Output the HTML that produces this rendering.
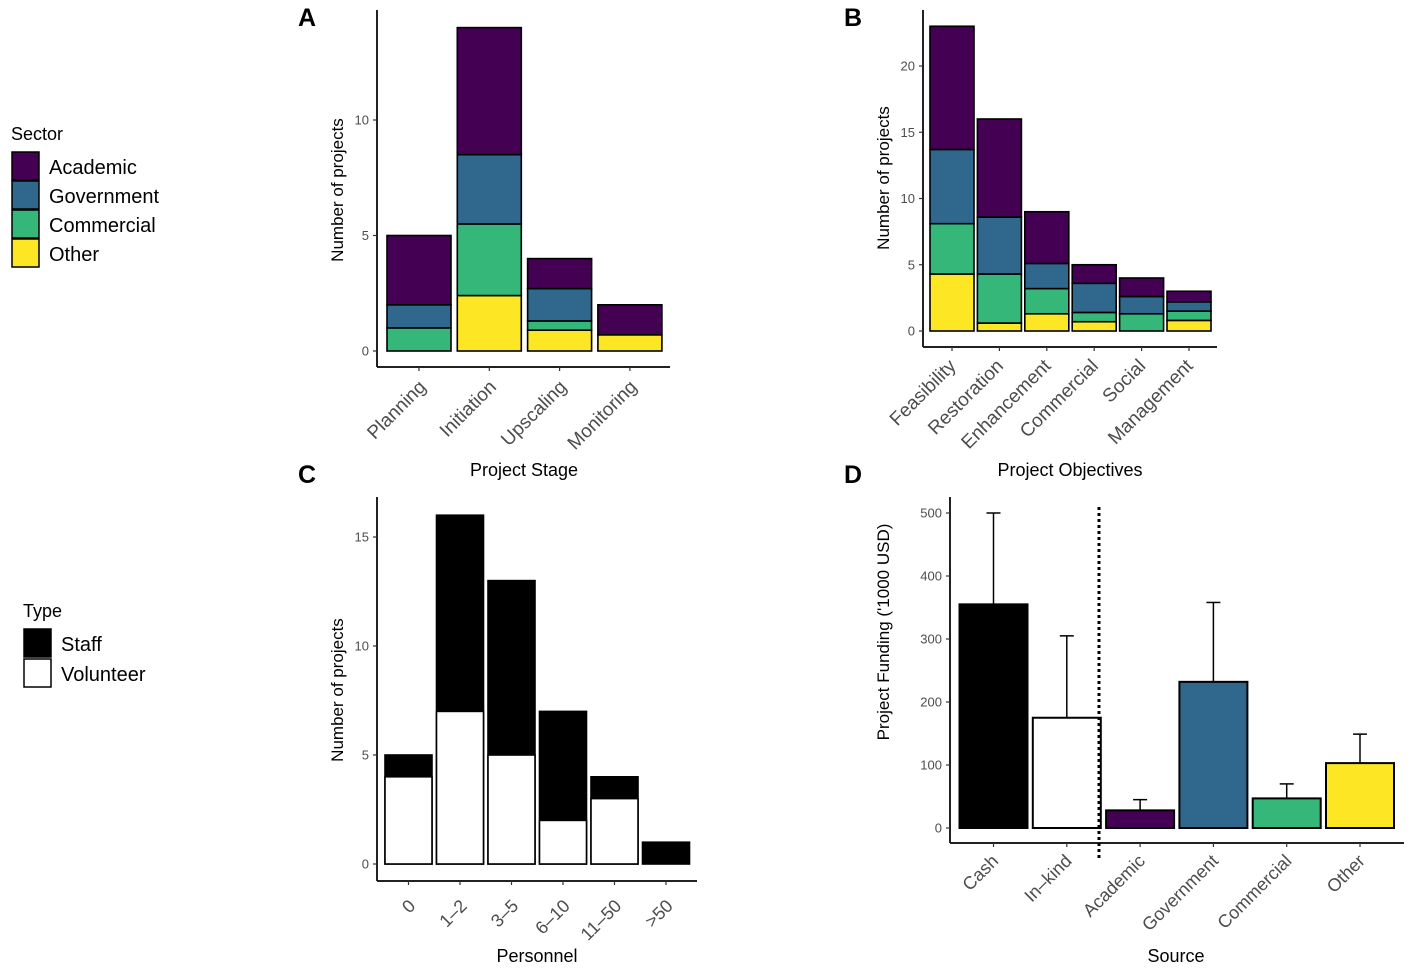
<!DOCTYPE html>
<html><head><meta charset="utf-8"><style>
html,body{margin:0;padding:0;background:#fff;}
svg{display:block;font-family:"Liberation Sans",sans-serif;}
</style></head><body>
<svg id="fig" width="1417" height="974" viewBox="0 0 1417 974">
<g id="root"></g>
</svg>
<script>
// Panel A data
const stagesA = ["Planning","Initiation","Upscaling","Monitoring"];
const otherA = [0, 2.4, 0.9, 0.7];
const commercialA = [1, 3.1, 0.4, 0];
const governmentA = [1, 3.0, 1.4, 0];
const academicA = [3, 5.5, 1.3, 1.3];
const ticksA = [0,5,10];
// Panel B data
const objectivesB = ["Feasibility","Restoration","Enhancement","Commercial","Social","Management"];
const otherB = [4.3, 0.6, 1.3, 0.7, 0, 0.8];
const commercialB = [3.8, 3.7, 1.9, 0.7, 1.3, 0.7];
const governmentB = [5.6, 4.3, 1.9, 2.2, 1.3, 0.7];
const academicB = [9.3, 7.4, 3.9, 1.4, 1.4, 0.8];
const ticksB = [0,5,10,15,20];
// Panel C data
const personnelC = ["0","1\u20132","3\u20135","6\u201310","11\u201350",">50"];
const volunteerC = [4, 7, 5, 2, 3, 0];
const totalC = [5, 16, 13, 7, 4, 1];
const ticksC = [0,5,10,15];
// Panel D data
const sourcesD = ["Cash","In\u2013kind","Academic","Government","Commercial","Other"];
const fundingD = [355, 175, 28, 232, 47, 103];
const errorD = [500, 305, 45, 358, 70, 149];
const ticksD = [0,100,200,300,400,500];

const NS="http://www.w3.org/2000/svg";
const root=document.getElementById('root');
function mk(tag,attrs,parent){const e=document.createElementNS(NS,tag);for(const k in attrs)e.setAttribute(k,attrs[k]);(parent||root).appendChild(e);return e;}
function txt(s,attrs,parent){const e=mk('text',attrs,parent);e.textContent=s;return e;}
const COL={Academic:"#440154",Government:"#30678d",Commercial:"#35b779",Other:"#fde725"};

function axes(p){
  const g=mk('g',{});
  
  
  mk('line',{x1:p.ax,y1:p.yTop,x2:p.ax,y2:p.ay,stroke:'#222','stroke-width':2},g);
  mk('line',{x1:p.ax,y1:p.ay,x2:p.xEnd,y2:p.ay,stroke:'#222','stroke-width':2},g);
  p.ticks.forEach(t=>{
    const y=p.y(t);
    mk('line',{x1:p.ax-4,y1:y,x2:p.ax,y2:y,stroke:'#333','stroke-width':1.2},g);
    const l=txt(String(t),{x:p.ax-8,y:y+4.5,'text-anchor':'end','font-size':13,fill:'#4d4d4d'},g);
    
    
  });
  p.cats.forEach((c,i)=>{
    const cx=p.cx(i);
    mk('line',{x1:cx,y1:p.ay,x2:cx,y2:p.ay+4,stroke:'#333','stroke-width':1.2},g);
    const lx=cx+p.lox, ly=p.ay+p.loy;
    const l=txt(c,{x:lx,y:ly,'text-anchor':'end','font-size':p.fs,fill:'#4d4d4d',transform:`rotate(-45 ${lx} ${ly})`},g);
    
    
  });
  const xt=txt(p.xTitle,{x:p.xtx,y:p.xty,'text-anchor':'middle','font-size':18,fill:'#000'},g);
  
  
  const yt=txt(p.yTitle,{x:0,y:0,'text-anchor':'middle','font-size':17,fill:'#000',transform:`translate(${p.ytx},${p.yty}) rotate(-90)`},g);
  
  
  const pl=txt(p.letter,{x:p.lx,y:p.ly,'font-size':25,'font-weight':'bold',fill:'#000'},g);
  
  
}

function stacked(p,series,names){
  const g=mk('g',{});
  
  
  p.cats.forEach((c,i)=>{
    let cum=0;
    series.forEach((s,k)=>{
      const v=s[i]; if(v<=0) return;
      const y0=p.y(cum), y1=p.y(cum+v); cum+=v;
      const r=mk('rect',{x:p.cx(i)-p.bw/2,y:y1,width:p.bw,height:y0-y1,fill:COL[names[k]],stroke:'#000','stroke-width':1.6},g);
      
      
    });
  });
}

// Panel A
const pA={name:'panel-a',cats:stagesA,ticks:ticksA,ax:377,ay:367,yTop:10,xEnd:670,
  y:v=>351-v*23.1,cx:i=>419+i*70.3,bw:64,lox:8,loy:21,fs:19,
  xTitle:'Project Stage',xtx:524,xty:476,yTitle:'Number of projects',ytx:343,yty:190,letter:'A',lx:298,ly:26};
axes(pA);
stacked(pA,[otherA,commercialA,governmentA,academicA],["Other","Commercial","Government","Academic"]);

// Panel B
const pB={name:'panel-b',cats:objectivesB,ticks:ticksB,ax:923,ay:347,yTop:10,xEnd:1217,
  y:v=>331-v*13.25,cx:i=>952+i*47.4,bw:44,lox:5,loy:20,fs:19,
  xTitle:'Project Objectives',xtx:1070,xty:476,yTitle:'Number of projects',ytx:889,yty:178,letter:'B',lx:844,ly:26};
axes(pB);
stacked(pB,[otherB,commercialB,governmentB,academicB],["Other","Commercial","Government","Academic"]);

// Panel C
const pC={name:'panel-c',cats:personnelC,ticks:ticksC,ax:377,ay:881,yTop:497,xEnd:697,
  y:v=>864-v*21.8,cx:i=>408.5+i*51.5,bw:47,lox:8,loy:26,fs:18,
  xTitle:'Personnel',xtx:537,xty:962,yTitle:'Number of projects',ytx:343,yty:690,letter:'C',lx:298,ly:483};
axes(pC);
(function(){
  const g=mk('g',{});
  
  
  personnelC.forEach((c,i)=>{
    const x=pC.cx(i)-pC.bw/2;
    const s=mk('rect',{x:x,y:pC.y(totalC[i]),width:pC.bw,height:pC.y(0)-pC.y(totalC[i]),fill:'#000',stroke:'#000','stroke-width':1.6},g);
    
    
    if(volunteerC[i]>0){
      const v=mk('rect',{x:x,y:pC.y(volunteerC[i]),width:pC.bw,height:pC.y(0)-pC.y(volunteerC[i]),fill:'#fff',stroke:'#000','stroke-width':1.6},g);
      
      
    }
  });
})();

// Panel D
const pD={name:'panel-d',cats:sourcesD,ticks:ticksD,ax:950,ay:843,yTop:497,xEnd:1404,
  y:v=>828-v*0.63,cx:i=>993.5+i*73.3,bw:68,lox:6,loy:19,fs:18,
  xTitle:'Source',xtx:1176,xty:962,yTitle:"Project Funding ('1000 USD)",ytx:889,yty:632,letter:'D',lx:844,ly:483};
axes(pD);
(function(){
  const fills=["#000","#fff",COL.Academic,COL.Government,COL.Commercial,COL.Other];
  const g=mk('g',{});
  
  
  sourcesD.forEach((c,i)=>{
    const cx=pD.cx(i);
    mk('line',{x1:cx,y1:pD.y(fundingD[i]),x2:cx,y2:pD.y(errorD[i]),stroke:'#000','stroke-width':1.5},g);
    mk('line',{x1:cx-7,y1:pD.y(errorD[i]),x2:cx+7,y2:pD.y(errorD[i]),stroke:'#000','stroke-width':1.5},g);
    const r=mk('rect',{x:cx-pD.bw/2,y:pD.y(fundingD[i]),width:pD.bw,height:pD.y(0)-pD.y(fundingD[i]),fill:fills[i],stroke:'#000','stroke-width':2},g);
    
    
  });
  const d=mk('line',{x1:1099,y1:507,x2:1099,y2:860,stroke:'#000','stroke-width':3,'stroke-dasharray':'3 3'},g);
  
  
})();

// Legends
(function(){
  const g=mk('g',{});
  
  
  txt('Sector',{x:11,y:140,'font-size':18,fill:'#000'},g);
  const names=["Academic","Government","Commercial","Other"];
  names.forEach((n,i)=>{
    const y=152+i*29;
    const e=mk('g',{},g);
    
    
    mk('rect',{x:12,y:y,width:27,height:28,fill:COL[n],stroke:'#000','stroke-width':1.5},e);
    txt(n,{x:49,y:y+22,'font-size':20,fill:'#000'},e);
  });
  const t=mk('g',{});
  
  
  txt('Type',{x:23,y:617,'font-size':18,fill:'#000'},t);
  [["Staff","#000"],["Volunteer","#fff"]].forEach((n,i)=>{
    const y=629+i*30;
    const e=mk('g',{},t);
    
    
    mk('rect',{x:24,y:y,width:27,height:28,fill:n[1],stroke:'#000','stroke-width':1.5},e);
    txt(n[0],{x:61,y:y+22,'font-size':20,fill:'#000'},e);
  });
})();
</script>
</body></html>
